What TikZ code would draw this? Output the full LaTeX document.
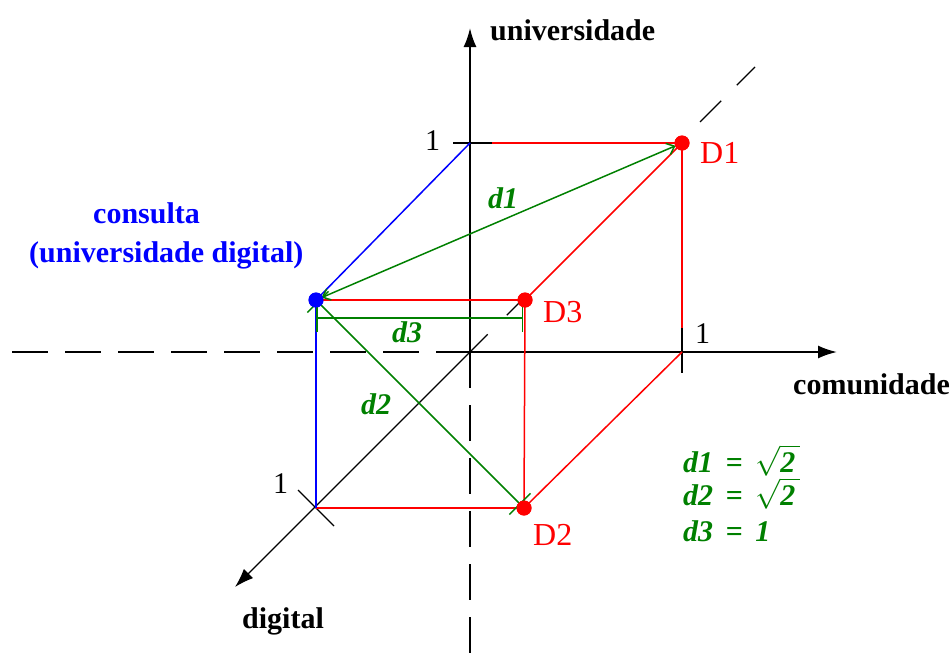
\RequirePackage{fix-cm}
\documentclass[tikz,border=0pt]{standalone}
\usepackage{fontspec}
\setmainfont{Liberation Serif}
\usetikzlibrary{arrows.meta}
\definecolor{dgreen}{RGB}{0,128,0}
\definecolor{qblue}{RGB}{0,0,255}
\definecolor{dred}{RGB}{255,0,0}
\begin{document}
\begin{tikzpicture}[x=1pt,y=-1pt,
  axis/.style={black,line width=2pt},
  thinaxis/.style={black,line width=1.2pt},
  axdash/.style={black,line width=2pt,dash pattern=on 36pt off 17pt},
  diagdash/.style={black,line width=1.2pt},
  tickmark/.style={black,line width=1.6pt},
  redline/.style={dred,line width=1.5pt},
  blueline/.style={qblue,line width=1.5pt},
  dist/.style={dgreen,line width=1.5pt},
  lbl/.style={inner sep=0pt,anchor=base west,font=\fontsize{30}{36}\selectfont\bfseries},
  unitlbl/.style={inner sep=0pt,anchor=base west,font=\fontsize{30}{36}\selectfont},
  dlbl/.style={inner sep=0pt,anchor=base west,text=dred,font=\fontsize{32}{38}\selectfont},
  glbl/.style={inner sep=0pt,anchor=base west,text=dgreen,font=\fontsize{30}{36}\selectfont\bfseries\itshape},
  qlbl/.style={inner sep=0pt,anchor=base west,text=qblue,font=\fontsize{30}{36}\selectfont\bfseries},
  rdot/.style={circle,fill=dred,inner sep=0pt,minimum size=15pt},
  bdot/.style={circle,fill=qblue,inner sep=0pt,minimum size=15pt},
  axtip/.style={-{Latex[length=19pt,width=13pt]}}
]
\useasboundingbox (0,0) rectangle (952,659);

% key points
\coordinate (O) at (470,352);
\coordinate (U) at (470,143);
\coordinate (C) at (682,352);
\coordinate (G) at (316,508);
\coordinate (Ytip) at (470,28);
\coordinate (Xtip) at (837,352);
\coordinate (Ztip) at (235,587);
\coordinate (Xend) at (12,352);
\coordinate (Yend) at (470,659);
\coordinate (Za) at (525,297);
\coordinate (Zb) at (700,122);
\coordinate (Zc) at (755,67);
\coordinate (Ul) at (453,143);
\coordinate (Ur) at (492,143);
\coordinate (Ct) at (682,328);
\coordinate (Cb) at (682,373);
\coordinate (Ga) at (298,490);
\coordinate (Gb) at (334,526);
\coordinate (L3a) at (316,318);
\coordinate (L3b) at (523,318);

\node[rdot] (D1) at (682,143) {};
\node[rdot] (D3) at (525,300) {};
\node[rdot] (D2) at (524,508) {};
\node[bdot] (Q) at (316,300) {};

% axes
\draw[axis,axtip] (O) -- (Ytip);
\draw[axis,axtip] (O) -- (Xtip);
\draw[axdash] (Xend) -- (O);
\draw[axdash] (O) -- (Yend);
\draw[thinaxis,axtip] (O) -- (Ztip);
\draw[diagdash,dash pattern=on 25pt off 27pt] (O) -- (Za);
\draw[diagdash,dash pattern=on 30pt off 22pt] (Zb) -- (Zc);

% unit ticks
\draw[tickmark] (Ul) -- (Ur);
\draw[tickmark] (Ct) -- (Cb);
\draw[tickmark,line width=1.2pt] (Ga) -- (Gb);

% red cube edges
\draw[redline] (Ur) -- (D1.center);
\draw[redline] (D1.center) -- (Ct);
\draw[redline] (D1.center) -- (D3.center);
\draw[redline] (D3.center) -- (Q.center);
\draw[redline] (D3.center) -- (D2.center);
\draw[redline] (D2.center) -- (C);
\draw[redline] (G) -- (D2.center);

% blue edges
\draw[blueline] (U) -- (Q.center);
\draw[blueline] (Q.center) -- (G);

% distances
\draw[dist,{Straight Barb[length=7pt,width=12pt]}-{Straight Barb[length=7pt,width=12pt]},shorten <=6pt,shorten >=7pt] (Q.center) -- (D1.center);
\draw[dist,{Bar[width=30pt]}-{Bar[width=30pt]},shorten <=2pt,shorten >=5pt] (Q.center) -- (D2.center);
\draw[dist,{Bar[width=27pt]}-{Bar[width=27pt]}] (L3a) -- (L3b);

% dots on top
\node[rdot] at (D1) {};
\node[rdot] at (D3) {};
\node[rdot] at (D2) {};
\node[bdot] at (Q) {};

% labels
\node[lbl] (tu) at (490,40) {universidade};
\node[lbl] (tc) at (793,394) {comunidade};
\node[lbl] (tg) at (242,628) {digital};
\node[unitlbl] (one1) at (425,150) {1};
\node[unitlbl] (one2) at (695,343) {1};
\node[unitlbl] (one3) at (273,493) {1};
\node[dlbl] (lD1) at (700,163) {D1};
\node[dlbl] (lD3) at (543,322) {D3};
\node[dlbl] (lD2) at (533,545) {D2};
\node[qlbl] (tq1) at (93,223) {consulta};
\node[qlbl] (tq2) at (29,262) {(universidade digital)};
\node[glbl] (ld1) at (488,208) {d1};
\node[glbl] (ld2) at (361,414) {d2};
\node[glbl] (ld3) at (392,342) {d3};
\node[glbl] (e1) at (683,472) {d1 \,=\, $\sqrt{\mbox{2\,}}$};
\node[glbl] (e2) at (683,505) {d2 \,=\, $\sqrt{\mbox{2\,}}$};
\node[glbl] (e3) at (683,541) {d3 \,=\, 1};
\end{tikzpicture}
\end{document}
